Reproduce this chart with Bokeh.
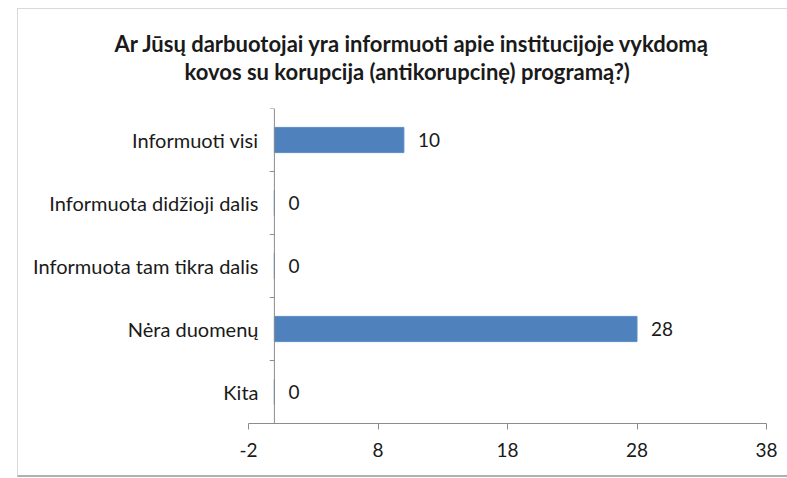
from bokeh.plotting import figure
from bokeh.models import (FactorRange, Range1d, FixedTicker, ColumnDataSource,
                          Title, Span, InlineStyleSheet)
from bokeh.core.properties import value
from bokeh.embed import file_html
from bokeh.resources import INLINE

# ---- data ----
categories = ["Informuoti visi", "Informuota didžioji dalis",
              "Informuota tam tikra dalis", "Nėra duomenų", "Kita"]
counts = [10, 0, 0, 28, 0]
x_ticks = [-2, 8, 18, 28, 38]
title_lines = ["Ar Jūsų darbuotojai yra informuoti apie institucijoje vykdomą",
               "kovos su korupcija (antikorupcinę) programą?)"]

FONT = "Lato"
TXT = "#1a1a1a"
AXIS = "#8c8c8c"
BAR = "#4F81BD"

src = ColumnDataSource(dict(cat=categories, val=counts,
                            lab=[str(v) for v in counts]))

p = figure(width=787, height=478, output_backend="svg", toolbar_location=None,
           y_range=FactorRange(factors=list(reversed(categories))),
           x_range=Range1d(x_ticks[0], x_ticks[-1]),
           min_border_left=248, min_border_right=21,
           min_border_top=108, min_border_bottom=55)
p.outline_line_color = None
p.xgrid.visible = False
p.ygrid.visible = False
p.background_fill_color = "white"
p.border_fill_color = "white"

p.hbar(y="cat", right="val", left=0, height=0.4, source=src,
       fill_color=BAR, line_color="#5b8cc6", line_width=1)

p.text(x="val", y="cat", text="lab", source=src, x_offset=14,
       text_align="left", text_baseline="middle",
       text_font=value(FONT), text_font_size="19px", text_color=TXT)

# x axis
xa = p.xaxis[0]
xa.ticker = FixedTicker(ticks=x_ticks)
xa.major_label_overrides = {x_ticks[0]: str(x_ticks[0])}
xa.axis_line_color = AXIS
xa.major_tick_line_color = AXIS
xa.major_tick_out = 6
xa.major_tick_in = 0
xa.minor_tick_line_color = None
xa.major_label_text_font = FONT
xa.major_label_text_font_size = "19px"
xa.major_label_text_color = TXT
xa.major_label_standoff = 13

# y axis: labels only; its line is drawn at x = 0 below
ya = p.yaxis[0]
ya.axis_line_color = None
ya.major_tick_line_color = None
ya.major_tick_out = 0
ya.major_tick_in = 0
ya.minor_tick_line_color = None
ya.major_label_text_font = FONT
ya.major_label_text_font_size = "20px"
ya.major_label_text_color = TXT
ya.major_label_standoff = -10

p.add_layout(Span(location=0, dimension="height", line_color=AXIS, line_width=1))
bounds = [(c, 0.5) for c in categories]
p.segment(x0=[-0.36] * len(bounds), x1=[0] * len(bounds), y0=bounds, y1=bounds,
          line_color=AXIS, line_width=1)

# title: two lines, added bottom line first (closest to the frame)
offsets = [-134, -64]
standoffs = [-48, 47]
for line, off, so in reversed(list(zip(title_lines, offsets, standoffs))):
    p.add_layout(Title(text=line, align="left", offset=off,
                       text_font=FONT, text_font_style="bold",
                       text_font_size="22px", text_color=TXT, standoff=so),
                 "above")

p.stylesheets = [InlineStyleSheet(css=":host{position:relative;}"
    ":host::after{content:'';position:absolute;left:17px;top:8px;right:-4px;bottom:1px;"
    "border-top:1px solid #d9d9d9;border-left:1px solid #d9d9d9;"
    "border-bottom:2px solid #b0b0b0;pointer-events:none;}")]

open("out.html", "w").write(file_html(p, INLINE))
